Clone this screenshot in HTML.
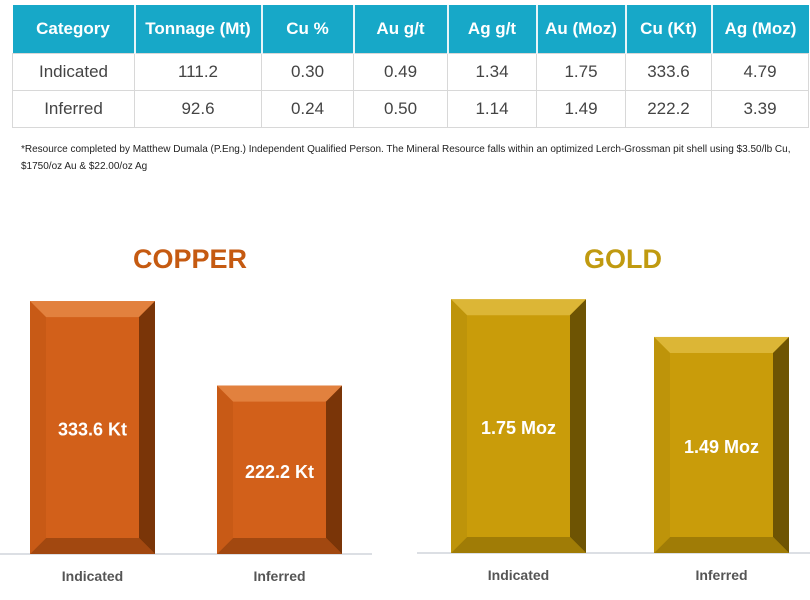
<!DOCTYPE html>
<html><head><meta charset="utf-8"><style>
body{margin:0;width:810px;height:600px;background:#fff;font-family:"Liberation Sans",sans-serif;overflow:hidden;position:relative}
table{position:absolute;left:12px;top:5px;border-collapse:collapse;width:796px;table-layout:fixed}
th{background:#17a8c8;color:#fff;font-size:17px;font-weight:bold;height:48px;border-right:2px solid #e8f4f8;padding:0}
th:last-child{border-right:none}
td{text-align:center;font-size:17px;color:#444;height:36px;border:1px solid #d8d8d8;padding:0}
.note{position:absolute;left:21px;top:141px;font-size:10px;line-height:17px;color:#222;width:780px}
svg{position:absolute;left:0;top:0}
</style></head><body>
<table>
<colgroup><col style="width:122px"><col style="width:127px"><col style="width:92px"><col style="width:94px"><col style="width:89px"><col style="width:89px"><col style="width:86px"><col style="width:97px"></colgroup>
<tr><th>Category</th><th>Tonnage (Mt)</th><th>Cu %</th><th>Au g/t</th><th>Ag g/t</th><th>Au (Moz)</th><th>Cu (Kt)</th><th>Ag (Moz)</th></tr>
<tr><td>Indicated</td><td>111.2</td><td>0.30</td><td>0.49</td><td>1.34</td><td>1.75</td><td>333.6</td><td>4.79</td></tr>
<tr><td>Inferred</td><td>92.6</td><td>0.24</td><td>0.50</td><td>1.14</td><td>1.49</td><td>222.2</td><td>3.39</td></tr>
</table>
<div class="note">*Resource completed by Matthew Dumala (P.Eng.) Independent Qualified Person. The Mineral Resource falls within an optimized Lerch-Grossman pit shell using $3.50/lb Cu, $1750/oz Au &amp; $22.00/oz Ag</div>
<svg id="chart" width="810" height="600"></svg>
<script>
const categories=["Indicated","Inferred"];
const copperValues=[333.6,222.2];
const copperLabels=["333.6 Kt","222.2 Kt"];
const goldValues=[1.75,1.49];
const goldLabels=["1.75 Moz","1.49 Moz"];
const NS="http://www.w3.org/2000/svg";
const svg=document.getElementById('chart');
function mk(t,a,p){const e=document.createElementNS(NS,t);for(const k in a)e.setAttribute(k,a[k]);(p||svg).appendChild(e);return e;}
function chart(cfg){
  const g=mk('g',{});
  
  
  const base=cfg.base;
  const y=v=>base-v*cfg.scale;
  const t=mk('text',{x:cfg.titleX,y:268,'text-anchor':'middle','font-size':27,'font-weight':'bold',fill:cfg.titleColor},g);
  t.textContent=cfg.title;
  
  
  const ax=mk('line',{x1:cfg.axisX1,x2:cfg.axisX2,y1:base,y2:base,stroke:'#c8ccd4','stroke-width':1.2},g);
  
  
  cfg.values.forEach((v,i)=>{
    const x0=cfg.xs[i],w=cfg.w,x1=x0+w,yt=y(v),b=16;
    const bg=mk('g',{},g);
    
    
    mk('rect',{x:x0,y:yt,width:w,height:base-yt,fill:cfg.c},bg);
    mk('polygon',{points:`${x0},${yt} ${x1},${yt} ${x1-b},${yt+b} ${x0+b},${yt+b}`,fill:cfg.light},bg);
    mk('polygon',{points:`${x1},${yt} ${x1},${base} ${x1-b},${base-b} ${x1-b},${yt+b}`,fill:cfg.dark},bg);
    mk('polygon',{points:`${x0},${base} ${x1},${base} ${x1-b},${base-b} ${x0+b},${base-b}`,fill:cfg.mid},bg);
    mk('polygon',{points:`${x0},${yt} ${x0+b},${yt+b} ${x0+b},${base-b} ${x0},${base}`,fill:cfg.side},bg);
    const lt=mk('text',{x:x0+w/2,y:(yt+base)/2+8,'text-anchor':'middle','font-size':18,'font-weight':'bold',fill:'#fff'},bg);
    lt.textContent=cfg.labels[i];
    
    
    const ct=mk('text',{x:x0+w/2,y:base+27,'text-anchor':'middle','font-size':14,'font-weight':'bold',fill:'#555'},g);
    ct.textContent=categories[i];
    
    
  });
}
chart({name:'copper-chart',title:'COPPER',titleX:190,titleColor:'#c55a11',base:554,scale:0.758,values:copperValues,labels:copperLabels,xs:[30,217],w:125,axisX1:0,axisX2:372,c:'#d2601a',light:'#e2813e',dark:'#7a3508',mid:'#a24810',side:'#c85a16'});
chart({name:'gold-chart',title:'GOLD',titleX:623,titleColor:'#c09a10',base:553,scale:145,values:goldValues,labels:goldLabels,xs:[451,654],w:135,axisX1:417,axisX2:810,c:'#c99c0a',light:'#dcb636',dark:'#6e5403',mid:'#a07c06',side:'#be940a'});
</script>
</body></html>
